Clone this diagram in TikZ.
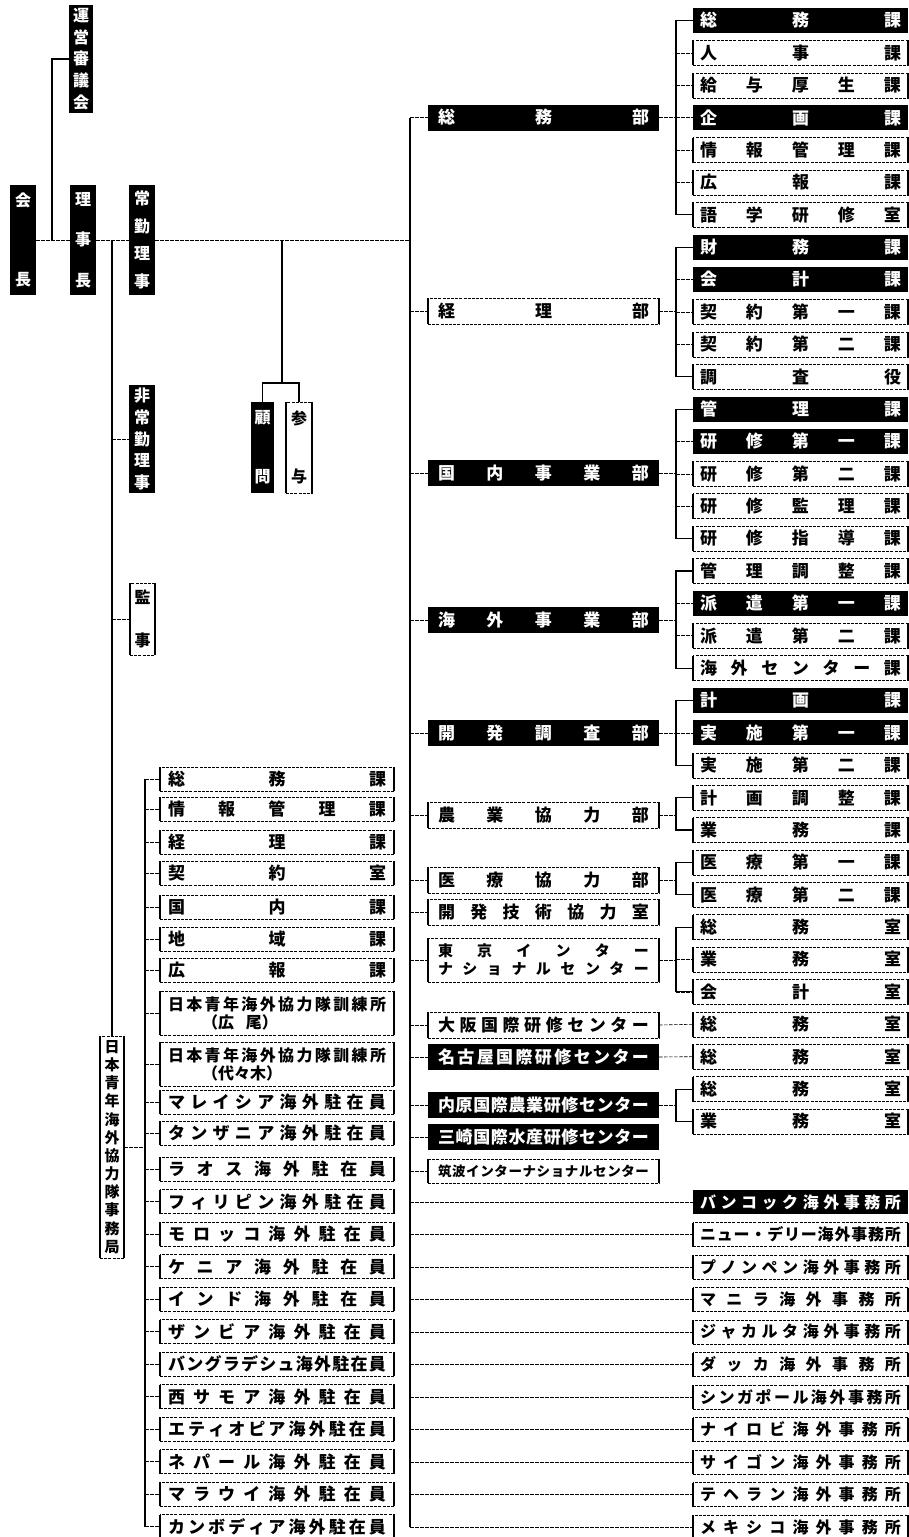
\documentclass[tikz,border=0pt]{standalone}
\usepackage{fontspec}
\setmainfont{Noto Sans CJK JP}
\makeatletter
\def\sp@start#1{#1\sp@next}
\def\sp@next#1{\ifx\relax#1\else\hfill#1\expandafter\sp@next\fi}
\newcommand\hspread[2]{\hbox to #1{\expandafter\sp@start#2\relax}}
\def\vsp@start#1{\hbox to 1em{\hss#1\hss}\vsp@next}
\def\vsp@next#1{\ifx\relax#1\else\vfill\hbox to 1em{\hss#1\hss}\expandafter\vsp@next\fi}
\newcommand\vspread[2]{\vbox to #1{\expandafter\vsp@start#2\relax}}
\makeatother
\newcommand\boxsides[1]{\draw[side] (#1.north west)--(#1.south west) (#1.north east)--(#1.south east);}
\begin{document}
\begin{tikzpicture}[x=1pt,y=-1pt,
 base/.style={inner sep=0pt,outer sep=0pt,font=\fontsize{17pt}{19pt}\selectfont\bfseries},
 bb/.style={base,fill=black,text=white},
 wb/.style={base,draw,fill=white,line width=0.5pt,dash pattern=on 3pt off 1.2pt},
 rbox/.style={minimum width=215pt,minimum height=25pt},
 obox/.style={minimum width=215pt,minimum height=24pt,font=\fontsize{16pt}{18pt}\selectfont\bfseries},
 dbox/.style={minimum width=231pt,minimum height=26pt},
 lbox/.style={minimum width=234pt,minimum height=24pt},
 vtx/.style={font=\fontsize{16pt}{18pt}\selectfont\bfseries},
 side/.style={line width=1.4pt,solid},
 conn/.style={line width=0.6pt,dash pattern=on 3.5pt off 1.5pt},
 bus/.style={line width=1.6pt},
 brk/.style={line width=1.1pt},
]
\fill[white] (0,0) rectangle (909,1537);
\useasboundingbox (0,0) rectangle (909,1537);

% ---------- top / left vertical boxes ----------
\node[bb,vtx,minimum width=26pt,minimum height=110pt] (kaicho) at (23,240) {\vspread{92pt}{会長}};
\node[bb,vtx,minimum width=24pt,minimum height=108pt] (unei) at (81,59) {\vspread{100pt}{運営審議会}};
\node[bb,vtx,minimum width=26pt,minimum height=110pt] (rijicho) at (83,240) {\vspread{94pt}{理事長}};
\node[bb,vtx,minimum width=26pt,minimum height=110pt] (jokin) at (142,240) {\vspread{96pt}{常勤理事}};
\node[bb,vtx,minimum width=26pt,minimum height=108pt] (hijokin) at (142,439) {\vspread{100pt}{非常勤理事}};
\node[wb,vtx,minimum width=25pt,minimum height=72pt] (kanji) at (142.5,619) {\vspread{56pt}{監事}};
\node[bb,vtx,minimum width=23pt,minimum height=91pt] (komon) at (262.5,447.5) {\vspread{72pt}{顧問}};
\node[wb,vtx,minimum width=26pt,minimum height=91pt] (sanyo) at (299,447.5) {\vspread{72pt}{参与}};
\node[wb,font=\fontsize{15pt}{17pt}\selectfont\bfseries,minimum width=24pt,minimum height=222pt] (jocv) at (112,1147) {\vspread{212pt}{日本青年海外協力隊事務局}};
\boxsides{kanji}\boxsides{sanyo}\boxsides{jocv}

\coordinate (bx0) at (410,0);
\coordinate (bx) at (676,0);
\coordinate (jb) at (145,0);
\coordinate (u) at (52,240);
\coordinate (rb) at (112,240);
\coordinate (kb) at (282,240);
\coordinate (kc) at (282,383);

\draw[conn] (kaicho.east) -- (rijicho.west);
\draw[conn] (rijicho.east) -- (jokin.west);
\draw[conn] (jokin.east) -- (jokin.east -| bx0);
\draw[brk] (u) |- (unei.west);
\draw[bus] (rb) -- (jocv.north);
\draw[conn] (hijokin.west -| rb) -- (hijokin.west);
\draw[conn] (kanji.west -| rb) -- (kanji.west);
\draw[brk] (kb) -- (kc);
\draw[brk] (komon.north) |- (kc) -| (sanyo.north);

% ---------- departments ----------
\node[bb,dbox] (d1) at (543.5,117.5) {\hspread{211pt}{総務部}};
\node[wb,dbox] (d2) at (543.5,311) {\hspread{211pt}{経理部}};
\node[bb,dbox] (d3) at (543.5,473) {\hspread{211pt}{国内事業部}};
\node[bb,dbox] (d4) at (543.5,620) {\hspread{211pt}{海外事業部}};
\node[bb,dbox] (d5) at (543.5,733) {\hspread{211pt}{開発調査部}};
\node[wb,dbox] (d6) at (543.5,815) {\hspread{211pt}{農業協力部}};
\node[wb,dbox] (d7) at (543.5,880) {\hspread{211pt}{医療協力部}};
\node[wb,dbox] (d8) at (543.5,912) {\hspread{211pt}{開発技術協力室}};
\node[wb,minimum width=231pt,minimum height=44pt,align=center,font=\fontsize{15pt}{18pt}\selectfont\bfseries] (d9) at (543.5,960) {\hspread{211pt}{東京インター}\\\hspread{211pt}{ナショナルセンター}};
\node[wb,dbox] (d10) at (543.5,1025) {\hspread{211pt}{大阪国際研修センター}};
\node[bb,dbox] (d11) at (543.5,1057) {\hspread{211pt}{名古屋国際研修センター}};
\node[bb,dbox] (d12) at (543.5,1105) {\hspread{211pt}{内原国際農業研修センター}};
\node[bb,dbox] (d13) at (543.5,1137) {\hspread{211pt}{三崎国際水産研修センター}};
\node[wb,dbox,minimum height=24pt,font=\fontsize{13.5pt}{15pt}\selectfont\bfseries] (d14) at (543.5,1171) {\hspread{211pt}{筑波インターナショナルセンター}};
\foreach \i in {2,6,7,8,9,10,14} {\boxsides{d\i}}

% ---------- sections (right column) ----------
\foreach \t/\s [count=\i from 0] in {総務課/bb,人事課/wb,給与厚生課/wb,企画課/bb,情報管理課/wb,広報課/wb,語学研修室/wb,
  財務課/bb,会計課/bb,契約第一課/wb,契約第二課/wb,調査役/wb,
  管理課/bb,研修第一課/bb,研修第二課/wb,研修監理課/wb,研修指導課/wb,
  管理調整課/wb,派遣第一課/bb,派遣第二課/wb,海外センター課/wb,
  計画課/bb,実施第一課/bb,実施第二課/wb,
  計画調整課/wb,業務課/wb,医療第一課/wb,医療第二課/wb,
  総務室/wb,業務室/wb,会計室/wb,総務室/wb,総務室/wb,総務室/wb,業務室/wb}
  {\node[\s,rbox] (r\i) at (800.5,{20.5+32.38*\i}) {\hspread{201pt}{\t}};}
\foreach \i in {1,2,4,5,6,9,10,11,14,15,16,17,19,20,23,24,25,26,27,28,29,30,31,32,33,34} {\boxsides{r\i}}

% ---------- overseas offices ----------
\foreach \t/\s [count=\j from 0] in {バンコック海外事務所/bb,ニュー・デリー海外事務所/wb,プノンペン海外事務所/wb,
  マニラ海外事務所/wb,ジャカルタ海外事務所/wb,ダッカ海外事務所/wb,シンガポール海外事務所/wb,
  ナイロビ海外事務所/wb,サイゴン海外事務所/wb,テヘラン海外事務所/wb,メキシコ海外事務所/wb}
  {\node[\s,obox] (o\j) at (800.5,{1202+32.5*\j}) {\hspread{201pt}{\t}};}
\foreach \j in {1,...,10} {\boxsides{o\j}}

% ---------- JOCV sections ----------
\foreach \t/\y [count=\k] in {総務課/779,情報管理課/809,経理課/842,契約室/873,国内課/907,地域課/939,広報課/970}
  {\node[wb,lbox] (j\k) at (277,\y) {\hspread{218pt}{\t}};}
\node[wb,minimum width=234pt,minimum height=44pt,align=left,font=\fontsize{16pt}{18pt}\selectfont\bfseries] (j8) at (277,1013) {\hspread{218pt}{日本青年海外協力隊訓練所}\\\hspace*{34pt}（広\hspace{12pt}尾）};
\node[wb,minimum width=234pt,minimum height=44pt,align=left,font=\fontsize{16pt}{18pt}\selectfont\bfseries] (j9) at (277,1064) {\hspread{218pt}{日本青年海外協力隊訓練所}\\\hspace*{34pt}（代々木）};
\foreach \t/\y [count=\k from 10] in {マレイシア海外駐在員/1102,タンザニア海外駐在員/1133,ラオス海外駐在員/1169,
  フィリピン海外駐在員/1201.5,モロッコ海外駐在員/1234,ケニア海外駐在員/1266.5,インド海外駐在員/1299,
  ザンビア海外駐在員/1331.5,バングラデシュ海外駐在員/1364,西サモア海外駐在員/1396.5,
  エティオピア海外駐在員/1429,ネパール海外駐在員/1461.5,マラウイ海外駐在員/1494,カンボディア海外駐在員/1526.5}
  {\node[wb,lbox] (j\k) at (277,\y) {\hspread{218pt}{\t}};}
\foreach \k in {1,...,23} {\boxsides{j\k}}

% ---------- connectors: department bus ----------
\draw[bus] (d1.west -| bx0) -- (o10.west -| bx0);
\foreach \i in {1,...,14} {\draw[conn] (d\i.west -| bx0) -- (d\i.west);}
\foreach \j in {0,...,10} {\draw[conn] (o\j.west -| bx0) -- (o\j.west);}

% ---------- connectors: section brackets ----------
\foreach \d/\a/\b in {d1/0/6,d2/7/11,d3/12/16,d4/17/20,d5/21/23,d6/24/25,d7/26/27,d9/28/30,d12/33/34}{
  \draw[brk] (r\a.west) -- (r\a.west -| bx) -- (r\b.west -| bx) -- (r\b.west);
  \foreach \k in {\a,...,\b} {\draw[conn] (r\k.west -| bx) -- (r\k.west);}
  \draw[conn] (\d.east) -- (\d.east -| bx);
}
\draw[conn] (d10.east) -- (r31.west);
\draw[conn] (d11.east) -- (r32.west);

% ---------- connectors: JOCV ----------
\draw[bus] (j1.west -| jb) -- (j23.west -| jb);
\draw[conn] (jocv.east) -- (jocv.east -| jb);
\foreach \k in {1,...,23} {\draw[conn] (j\k.west -| jb) -- (j\k.west);}
\end{tikzpicture}
\end{document}
